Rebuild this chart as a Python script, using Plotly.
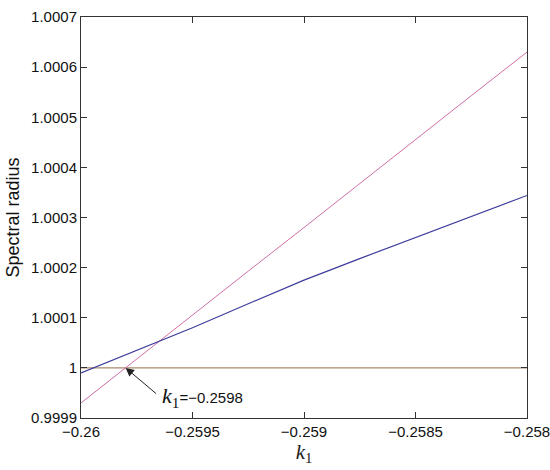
import plotly.graph_objects as go

k1 = [-0.26, -0.25975, -0.2595, -0.25925, -0.259, -0.25875, -0.2585, -0.25825, -0.258]
rho_pink = [0.99993, 1.000018, 1.000105, 1.000193, 1.00028, 1.000368, 1.000455, 1.000543, 1.00063]
rho_blue = [0.99999, 1.000035, 1.00008, 1.000128, 1.000175, 1.000218, 1.00026, 1.000302, 1.000344]
rho_unit = [1.0] * len(k1)

x_ticks = [-0.26, -0.2595, -0.259, -0.2585, -0.258]
x_labels = ["\u22120.26", "\u22120.2595", "\u22120.259", "\u22120.2585", "\u22120.258"]
y_ticks = [0.9999, 1.0, 1.0001, 1.0002, 1.0003, 1.0004, 1.0005, 1.0006, 1.0007]
y_labels = ["0.9999", "1", "1.0001", "1.0002", "1.0003", "1.0004", "1.0005", "1.0006", "1.0007"]

crit_k = -0.2598
crit_rho = 1.0

fig = go.Figure()
fig.add_trace(go.Scatter(x=k1, y=rho_unit, mode="lines", line=dict(color="#a8896b", width=1.4), showlegend=False))
fig.add_trace(go.Scatter(x=k1, y=rho_pink, mode="lines", line=dict(color="#cf6fa6", width=1), showlegend=False))
fig.add_trace(go.Scatter(x=k1, y=rho_blue, mode="lines", line=dict(color="#3d3d9c", width=1.2), showlegend=False))

axis_common = dict(showline=True, linecolor="#333", linewidth=1, mirror="ticks", ticks="inside",
                   ticklen=6, tickcolor="#333", showgrid=False, zeroline=False, automargin=False,
                   ticklabeloverflow="allow",
                   tickfont=dict(family="Liberation Sans, Arial", size=15, color="#111"))

fig.update_xaxes(range=[-0.26, -0.258], tickvals=x_ticks, ticktext=x_labels,
                 title=dict(text="<i>k</i><sub>1</sub>", font=dict(family="Liberation Serif", size=21, color="#222"), standoff=0),
                 **axis_common)
fig.update_yaxes(range=[0.9999, 1.0007], tickvals=y_ticks, ticktext=y_labels,
                 title=dict(text="Spectral radius", font=dict(family="Liberation Sans, Arial", size=18, color="#111"), standoff=6),
                 **axis_common)

fig.add_annotation(x=crit_k, y=crit_rho, ax=32, ay=27, text="", showarrow=True,
                   arrowhead=2, arrowsize=1.7, arrowwidth=1, arrowcolor="#222")
fig.add_annotation(x=crit_k, y=crit_rho, xshift=34, yshift=-29, text=
                   "<span style='font-family:Liberation Serif;font-size:22px'><i>k</i><sub>1</sub></span>=\u22120.2598",
                   showarrow=False, xanchor="left", yanchor="middle",
                   font=dict(family="Liberation Sans, Arial", size=15, color="#111"))

fig.update_layout(width=550, height=470, margin=dict(l=81, r=23, t=17, b=52),
                  plot_bgcolor="white", paper_bgcolor="white")
# remove the browser's default 8px body margin so the figure fills the window exactly
fig.write_html("out.html", config={"displayModeBar": False},
               post_script="document.body.style.margin='0';")
